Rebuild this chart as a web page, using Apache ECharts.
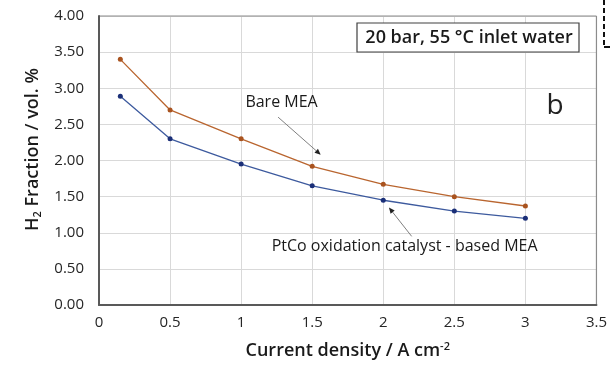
<!DOCTYPE html>
<html><head><meta charset="utf-8">
<script src="https://cdn.jsdelivr.net/npm/echarts@6/dist/echarts.min.js"></script>
<style>html,body{margin:0;padding:0;background:#fff}#c{width:610px;height:365px}</style>
</head><body><div id="c"></div>
<script>
const currentDensity = [0.15, 0.5, 1.0, 1.5, 2.0, 2.5, 3.0];
const bareMEA = [3.40, 2.70, 2.30, 1.92, 1.67, 1.50, 1.37];
const ptcoMEA = [2.89, 2.30, 1.95, 1.65, 1.45, 1.30, 1.20];
const xTicks = [0, 0.5, 1, 1.5, 2, 2.5, 3, 3.5];
const yTicks = [0, 0.5, 1, 1.5, 2, 2.5, 3, 3.5, 4];

const FONT = '"Open Sans", "Noto Sans", sans-serif';
const chart = echarts.init(document.getElementById('c'));
const pair = (xs, ys) => xs.map((x, i) => [x, ys[i]]);

chart.setOption({
  animation: false,
  textStyle: { fontFamily: FONT },
  grid: { left: 99, right: 12, top: 16, bottom: 57 },
  xAxis: {
    type: 'value', min: 0, max: 3.5, interval: 0.5,
    axisLine: { show: true, lineStyle: { color: '#595959', width: 2 } },
    axisTick: { show: false },
    splitLine: { show: true, lineStyle: { color: '#d9d9d9', width: 1 } },
    axisLabel: { color: '#262626', fontSize: 15, margin: 10, fontFamily: FONT,
      formatter: v => String(v) },
    name: '{n|Current density / A cm}{s|-2}',
    nameLocation: 'middle', nameGap: 36,
    nameTextStyle: { rich: {
      n: { fontSize: 18, fontWeight: 600, color: '#1a1a1a', fontFamily: FONT },
      s: { fontSize: 11, fontWeight: 600, color: '#1a1a1a', verticalAlign: 'top', padding: [0,0,9,0], fontFamily: FONT }
    } }
  },
  yAxis: {
    type: 'value', min: 0, max: 4, interval: 0.5,
    axisLine: { show: true, lineStyle: { color: '#595959', width: 2 } },
    axisTick: { show: false },
    splitLine: { show: true, lineStyle: { color: '#d9d9d9', width: 1 } },
    axisLabel: { color: '#262626', fontSize: 15, margin: 15, fontFamily: FONT,
      formatter: v => v.toFixed(2) },
    name: '{n|H}{s|2}{n| Fraction / vol. %}',
    nameLocation: 'middle', nameGap: 56, nameRotate: 90,
    nameTextStyle: { padding: [0, 0, 0, 22], rich: {
      n: { fontSize: 18, fontWeight: 600, color: '#1a1a1a', fontFamily: FONT },
      s: { fontSize: 11, fontWeight: 600, color: '#1a1a1a', verticalAlign: 'bottom', padding: [9,0,0,0], fontFamily: FONT }
    } }
  },
  series: [
    { name: 'Bare MEA', type: 'line', data: pair(currentDensity, bareMEA),
      symbol: 'circle', symbolSize: 5,
      lineStyle: { color: '#b9652f', width: 1.3 }, itemStyle: { color: '#a9531f' } },
    { name: 'PtCo oxidation catalyst - based MEA', type: 'line', data: pair(currentDensity, ptcoMEA),
      symbol: 'circle', symbolSize: 5,
      lineStyle: { color: '#3d5a9e', width: 1.3 }, itemStyle: { color: '#1b2f78' } }
  ]
});

const P = (x, y) => chart.convertToPixel({ gridIndex: 0 }, [x, y]);
const tl = P(0, 4), br = P(3.5, 0);
function arrow(from, to) {
  const a = P(from[0], from[1]), b = P(to[0], to[1]);
  const ang = Math.atan2(b[1] - a[1], b[0] - a[0]);
  const L = 6, W = 2.6;
  const bx = b[0] - L * Math.cos(ang), by = b[1] - L * Math.sin(ang);
  const nx = -Math.sin(ang) * W, ny = Math.cos(ang) * W;
  return [
    { type: 'line', shape: { x1: a[0], y1: a[1], x2: bx, y2: by }, style: { stroke: '#7f7f7f', lineWidth: 1 } },
    { type: 'polygon', shape: { points: [[b[0], b[1]], [bx + nx, by + ny], [bx - nx, by - ny]] }, style: { fill: '#222' } }
  ];
}
const bareLabelPos = P(1.03, 2.81);
const ptcoLabelPos = P(1.215, 0.81);
chart.setOption({
  graphic: [
    { type: 'line', shape: { x1: tl[0], y1: tl[1], x2: br[0], y2: tl[1] }, style: { stroke: '#8c8c8c', lineWidth: 1.2 } },
    { type: 'line', shape: { x1: br[0], y1: tl[1], x2: br[0], y2: br[1] }, style: { stroke: '#8c8c8c', lineWidth: 1.2 } },
    ...arrow([1.26, 2.60], [1.56, 2.08]),
    ...arrow([2.20, 0.95], [2.04, 1.35]),
    { type: 'text', x: bareLabelPos[0], y: bareLabelPos[1], style: { text: 'Bare MEA', font: '500 16px ' + FONT, fill: '#1a1a1a', textVerticalAlign: 'middle' } },
    { type: 'text', x: ptcoLabelPos[0], y: ptcoLabelPos[1], style: { text: 'PtCo oxidation catalyst - based MEA', font: '500 16px ' + FONT, fill: '#1a1a1a', textVerticalAlign: 'middle' } },
    { type: 'rect', shape: { x: 357, y: 23, width: 222, height: 29 }, style: { fill: '#fff', stroke: '#404040', lineWidth: 1.2 } },
    { type: 'text', x: 469, y: 38, style: { text: '20 bar, 55 °C inlet water', font: '600 18px ' + FONT, fill: '#1a1a1a', textAlign: 'center', textVerticalAlign: 'middle' } },
    { type: 'text', x: 555, y: 106, style: { text: 'b', font: '28px ' + FONT, fill: '#222', textAlign: 'center', textVerticalAlign: 'middle' } },
    { type: 'line', shape: { x1: 604, y1: 0, x2: 604, y2: 46 }, style: { stroke: '#111', lineWidth: 2, lineDash: [5, 3] } },
    { type: 'line', shape: { x1: 604, y1: 47, x2: 610, y2: 47 }, style: { stroke: '#111', lineWidth: 2 } }
  ]
});
</script></body></html>
